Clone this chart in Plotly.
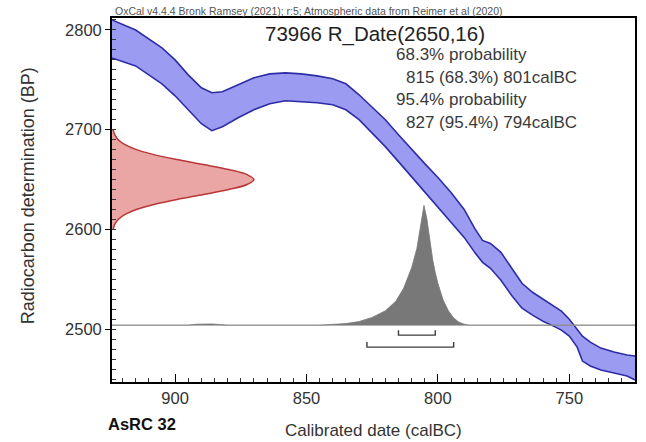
import plotly.graph_objects as go

# ---------------- data ----------------
# Calibration curve band (upper / lower edge, BP) at calendar years (BC)
curve_year = [924, 915, 905, 900, 895, 890, 886, 882, 876, 870, 864, 858, 852, 846,
              840, 835, 830, 825, 820, 815, 810, 805, 800, 795, 790, 786, 783, 780,
              776, 772, 768, 764, 760, 756, 753, 750, 747, 745, 742, 738, 733, 728, 725]
curve_top = [2810, 2800, 2782, 2770, 2755, 2742, 2737, 2738, 2745, 2752, 2756, 2757, 2756, 2754,
             2751, 2746, 2735, 2723, 2710, 2695, 2680, 2666, 2652, 2637, 2620, 2601, 2589, 2586,
             2577, 2561, 2546, 2537, 2530, 2523, 2518, 2510, 2500, 2493, 2487, 2481, 2477, 2474, 2473]
curve_bot = [2772, 2764, 2746, 2734, 2720, 2706, 2699, 2703, 2712, 2720, 2726, 2729, 2728, 2727,
             2725, 2720, 2710, 2697, 2683, 2668, 2653, 2638, 2622, 2607, 2592, 2577, 2567, 2561,
             2549, 2534, 2521, 2514, 2508, 2503, 2499, 2493, 2482, 2468, 2463, 2459, 2456, 2453, 2449]

# Radiocarbon measurement R_Date(2650,16): relative density by BP
rdate_bp = [2700, 2695, 2690, 2685, 2680, 2675, 2670, 2665, 2660, 2655, 2650,
            2645, 2640, 2635, 2630, 2625, 2620, 2615, 2610, 2605, 2600]
rdate_dens = [0.008, 0.019, 0.044, 0.092, 0.172, 0.295, 0.458, 0.645, 0.823, 0.952, 1.0,
              0.952, 0.823, 0.645, 0.458, 0.295, 0.172, 0.092, 0.044, 0.019, 0.008]

# Calibrated probability distribution (relative to peak), by calendar year BC
cal_year = [924, 895, 892, 889, 886, 883, 880, 845, 840, 835, 830, 825, 820, 816, 813, 810,
            808, 806.5, 805.3, 804.2, 803, 802, 801, 800, 798, 796, 794, 792, 790, 788, 725]
cal_prob = [0, 0, 0.008, 0.012, 0.01, 0.005, 0, 0, 0.004, 0.013, 0.03, 0.065, 0.12, 0.2, 0.31, 0.48,
            0.64, 0.84, 1.0, 0.89, 0.7, 0.55, 0.44, 0.35, 0.21, 0.12, 0.06, 0.025, 0.008, 0, 0]

# Highest posterior density ranges
range68 = (815, 801)
range95 = (827, 794)

title_text = "73966 R_Date(2650,16)"
header_text = "OxCal v4.4.4 Bronk Ramsey (2021); r:5; Atmospheric data from Reimer et al (2020)"
sample_text = "AsRC 32"
x_ticks = [900, 850, 800, 750]
y_ticks = [2500, 2600, 2700, 2800]

# ---------------- layout constants ----------------
X_RANGE = [924, 725]
Y_RANGE = [2447, 2812]
BASE_BP = 2504          # baseline of calibrated distribution
PEAK_BP = 120           # height of calibrated peak in BP units
RDATE_W = 54            # width of measurement curve in years
FONT = "Liberation Sans, Arial, sans-serif"

fig = go.Figure()

# calibration band fill
fig.add_trace(go.Scatter(
    x=curve_year + curve_year[::-1], y=curve_top + curve_bot[::-1],
    fill="toself", fillcolor="rgb(155,155,242)", line=dict(width=0),
    mode="lines", hoverinfo="skip", showlegend=False))
for edge in (curve_top, curve_bot):
    fig.add_trace(go.Scatter(x=curve_year, y=edge, mode="lines",
                             line=dict(color="rgb(45,45,165)", width=1.6),
                             hoverinfo="skip", showlegend=False))

# measurement distribution on the y axis
rx = [X_RANGE[0] - d * RDATE_W for d in rdate_dens]
fig.add_trace(go.Scatter(
    x=[X_RANGE[0]] + rx + [X_RANGE[0]], y=[rdate_bp[0]] + rdate_bp + [rdate_bp[-1]],
    fill="toself", fillcolor="rgb(234,165,165)", mode="lines",
    line=dict(color="rgba(0,0,0,0)", width=0), line_shape="spline",
    hoverinfo="skip", showlegend=False))
fig.add_trace(go.Scatter(
    x=rx, y=rdate_bp, mode="lines", line=dict(color="rgb(185,55,55)", width=1.5),
    line_shape="spline", hoverinfo="skip", showlegend=False))

# baseline
fig.add_trace(go.Scatter(x=X_RANGE, y=[BASE_BP, BASE_BP], mode="lines",
                         line=dict(color="rgb(170,170,170)", width=1),
                         hoverinfo="skip", showlegend=False))

# calibrated distribution
cy = [BASE_BP + p * PEAK_BP for p in cal_prob]
fig.add_trace(go.Scatter(
    x=cal_year, y=cy, fill="toself", fillcolor="rgb(120,120,120)",
    mode="lines", line=dict(color="rgb(120,120,120)", width=0.8),
    hoverinfo="skip", showlegend=False))

# range brackets
for (a, b), yb in ((range68, BASE_BP - 10), (range95, BASE_BP - 22)):
    fig.add_trace(go.Scatter(
        x=[a, a, b, b], y=[yb + 5, yb, yb, yb + 5], mode="lines",
        line=dict(color="rgb(60,60,60)", width=1.4),
        hoverinfo="skip", showlegend=False))

axis_common = dict(showline=True, linecolor="black", linewidth=1.8, mirror=True,
                   showgrid=False, zeroline=False,
                   tickfont=dict(family=FONT, size=16.5, color="#333"),
                   tickcolor="black")

fig.update_xaxes(range=X_RANGE, tickvals=x_ticks, ticks="inside", ticklen=8, tickwidth=1.3,
                 minor=dict(dtick=5, tick0=0, ticks="inside", ticklen=4, tickcolor="#333"),
                 **axis_common)
fig.update_yaxes(range=Y_RANGE, tickvals=y_ticks, ticks="outside", ticklen=5, tickwidth=1.3,
                 minor=dict(dtick=10, tick0=0, ticks="inside", ticklen=4, tickcolor="#333"),
                 **axis_common)

W, H = 646, 442
L, R, T, B = 112, 9, 18, 60
pw, ph = W - L - R, H - T - B


def px(x):
    return (x - L) / pw


def py(y):
    return 1 - (y - T) / ph


ann = [
    dict(text=header_text, x=px(113), y=py(11), xanchor="left", yanchor="middle",
         font=dict(family=FONT, size=10.5, color="#555")),
    dict(text=title_text, x=px(376), y=py(34), xanchor="center", yanchor="middle",
         font=dict(family=FONT, size=20.5, color="#222")),
    dict(text="68.3% probability", x=px(395), y=py(55), xanchor="left", yanchor="middle",
         font=dict(family=FONT, size=17, color="#3a3a3a")),
    dict(text=f"{range68[0]} (68.3%) {range68[1]}calBC", x=px(405), y=py(77),
         xanchor="left", yanchor="middle", font=dict(family=FONT, size=17, color="#3a3a3a")),
    dict(text="95.4% probability", x=px(395), y=py(100), xanchor="left", yanchor="middle",
         font=dict(family=FONT, size=17, color="#3a3a3a")),
    dict(text=f"{range95[0]} (95.4%) {range95[1]}calBC", x=px(405), y=py(122),
         xanchor="left", yanchor="middle", font=dict(family=FONT, size=17, color="#3a3a3a")),
    dict(text="Radiocarbon determination (BP)", x=px(28), y=py(196), textangle=-90,
         xanchor="center", yanchor="middle", font=dict(family=FONT, size=18, color="#333")),
    dict(text="Calibrated date (calBC)", x=px(374), y=py(430), xanchor="center",
         yanchor="middle", font=dict(family=FONT, size=17, color="#333")),
    dict(text="<b>" + sample_text + "</b>", x=px(106), y=py(424), xanchor="left",
         yanchor="middle", font=dict(family=FONT, size=16.5, color="#111")),
]
for a in ann:
    a.update(xref="paper", yref="paper", showarrow=False)

fig.update_layout(width=W, height=H, margin=dict(l=L, r=R, t=T, b=B),
                  paper_bgcolor="white", plot_bgcolor="white",
                  annotations=ann, showlegend=False)

fig.write_html("out.html", config={"displayModeBar": False})
